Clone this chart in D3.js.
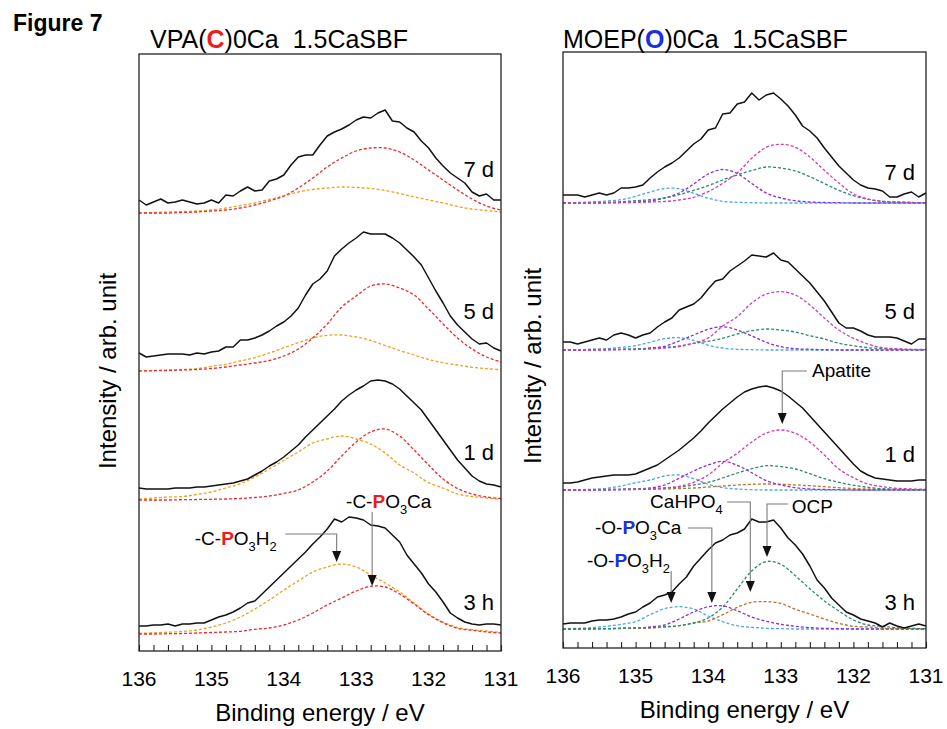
<!DOCTYPE html>
<meta charset="utf-8">
<script src="https://d3js.org/d3.v7.min.js"></script>
<style>
  body { margin: 0; background: #fff; }
  text { font-family: "Liberation Sans", Arial, Helvetica, sans-serif; }
</style>
<div id="chart"></div>
<script>
// Binding energy grids (eV): measured spectra every 0.1 eV, fitted components every 0.2 eV
var eVRaw = [136.0,135.9,135.8,135.7,135.6,135.5,135.4,135.3,135.2,135.1,135.0,134.9,134.8,134.7,134.6,134.5,134.4,134.3,134.2,134.1,134.0,133.9,133.8,133.7,133.6,133.5,133.4,133.3,133.2,133.1,133.0,132.9,132.8,132.7,132.6,132.5,132.4,132.3,132.2,132.1,132.0,131.9,131.8,131.7,131.6,131.5,131.4,131.3,131.2,131.1,131.0];
var eVFit = [136.0,135.8,135.6,135.4,135.2,135.0,134.8,134.6,134.4,134.2,134.0,133.8,133.6,133.4,133.2,133.0,132.8,132.6,132.4,132.2,132.0,131.8,131.6,131.4,131.2,131.0];
var tickLabels = [136, 135, 134, 133, 132, 131];
var times = ["7 d", "5 d", "1 d", "3 h"];

// stacking offsets of each spectrum (arb. unit)
var vpaOffset = [438, 280, 151, 17];
var moepOffset = [445, 298, 158, 19];

// VPA(C)0Ca measured P 2p spectra
var vpaRaw7d = [13,8,11,14,10,11,13,11,9,10,13,10,18,17,22,26,22,23,32,34,38,48,56,58,58,68,77,81,84,88,93,96,95,100,103,92,91,85,81,72,65,55,47,40,35,30,21,17,19,13,13];
var vpaRaw5d = [18,14,15,16,17,17,17,16,18,17,19,20,24,24,31,31,33,36,40,45,49,55,63,76,87,92,100,115,122,128,133,139,137,137,137,133,128,121,114,106,93,80,68,55,46,39,32,27,28,23,20];
var vpaRaw1d = [12,11,11,11,11,12,12,12,13,13,14,15,16,17,19,21,25,29,34,38,43,49,55,63,70,77,84,91,99,105,110,114,119,120,119,116,111,104,97,90,80,70,60,50,40,32,24,19,16,15,13];
var vpaRaw3h = [8,8,9,9,10,8,10,10,11,11,14,17,19,22,26,31,33,40,47,54,61,68,75,82,90,97,105,115,112,117,116,114,109,108,106,99,92,79,70,61,50,42,32,21,16,12,10,9,10,10,9];

// VPA fitted components: -C-PO3Ca (red), -C-PO3H2 (orange)
var vpaCa7d = [0,0,0,0.5,1,2,3,5,8,12,17,25,35,46,55,62,65,65,61,53,43,33,23,14,7,3];
var vpaH7d  = [0,0.5,1,1.5,2,3,5,7.5,10,13.5,17,21,23.5,25,26,25.5,24.5,22.5,19.5,16,13,10,6.5,4,2.5,1];
var vpaCa5d = [0,0.3,0.5,1,1.5,2.5,4,6,8,10.5,15,22,33,47,64,75,85,87,83,76,62,47,33,22,14,9];
var vpaH5d  = [0,0.5,1,1.5,2.3,4.7,6.7,10,13.3,18,23.3,28.3,33,35.7,36,34,30.5,25.5,20.5,16,11.5,8.3,6,3.7,2.3,1.3];
var vpaCa1d = [0,0,0,0.3,0.5,0.7,1,1.5,2.5,4,6.5,10,18,29,44,58,68,71,64,50,35,21,11.5,6,3,1.5];
var vpaH1d  = [1,2,3,3.5,5.5,8,12,16.3,23,31,39.7,48,57,61,64,61,56,47,35,27,17.3,12,6,3.5,2,0.7];
var vpaCa3h = [0,0,0.3,0.5,1,1.5,2,2.7,4.7,6,9,14,21,29,36,43,47.7,47,40,30,19.3,11.3,5.7,3.7,2,1];
var vpaH3h  = [0.7,1.2,1.8,2.5,4,7,11,17,25,34,44,53,62,67,70,67,59,51,42,31,20,12,6.5,4.3,3,1.5];

// MOEP(O)0Ca measured P 2p spectra
var moepRaw7d = [8,8,8,6,8,10,8,10,15,15,16,18,25,31,36,40,45,52,59,64,73,75,89,90,99,101,110,103,108,110,104,97,88,77,72,65,55,46,37,30,23,18,15,14,12,6,6,9,11,6,10];
var moepRaw5d = [8,8,6,8,10,12,10,15,17,15,12,15,17,23,28,32,40,43,46,52,61,69,71,79,84,89,95,94,93,97,90,88,81,74,67,58,49,38,27,22,22,19,15,13,13,13,12,9,6,11,11];
var moepRaw1d = [7,7,8,10,12,13,14,15,15,15,16,19,22,25,30,35,40,46,52,59,67,74,81,87,93,98,101,103,104,102,99,94,88,82,74,66,58,50,42,34,26,19,15,12,11,10,9,9,9,10,10];
var moepRaw3h = [5,6,6,6,8,9,9,10,12,15,17,22,26,32,34,37,45,52,63,71,79,86,89,94,96,100,110,107,107,109,101,91,84,75,63,49,41,31,24,17,14,10,8,6,2,6,3,1,3,5,3];

// MOEP fitted components
var moepH7d   = [0,0.5,1,2,3.3,6.7,11,14.5,14.3,9.7,4.7,1.7,0.7,0.3,0,0,0,0,0,0,0,0,0,0,0,0];
var moepCa7d  = [0,0,0,0.3,0.5,1,2,5,10,19,29,33.5,29.5,19.5,10,5,2.3,1,0.5,0.3,0,0,0,0,0,0];
var moepOcp7d = [0,0.3,0.5,0.7,1.3,2.3,3.3,5,8.3,12.7,17.3,23,28,32.5,36,35,32,26.3,19.5,12.7,7.3,3.7,1.7,1,0.5,0.3];
var moepAp7d  = [0,0,0,0,0.3,0.5,1,1.5,3,5.7,11.3,19.7,30,44.7,55.7,58.7,55.7,46,32.7,20,9.3,4,1.7,1,0.5,0.3];

var moepH5d   = [0,0.3,0.7,1.3,2.7,4.3,7.7,11.3,12.3,9.7,4.7,2,0.7,0.3,0,0,0,0,0,0,0,0,0,0,0,0];
var moepCa5d  = [0,0,0,0.3,0.7,1,2,3.7,9,15,20.7,23.3,20,14,7.7,3.3,1.3,0.7,0.3,0,0,0,0,0,0,0];
var moepOcp5d = [0,0.3,0.5,0.7,0.7,1,1.7,2.7,4,6.7,8.7,11.7,16,19.3,21,20,18,14.3,11,6.7,4.3,2.3,1.3,0.7,0.3,0.3];
var moepAp5d  = [0,0,0,0,0.3,0.5,1,2,3.3,6.7,12,24,33.3,47,56,58.3,55,45,32,20,11.7,6,2.3,1.3,0.7,0.7];

var moepH1d   = [0,0.3,0.7,1.7,4,7.3,10,14,15,11.3,5.7,2.3,1,0.3,0,0,0,0,0,0,0,0,0,0,0,0];
var moepCa1d  = [0,0,0,0.3,0.7,1,2,5,11.7,19,25,28.7,24.7,17.3,9.3,5,2.3,1,0.5,0.3,0,0,0,0,0,0];
var moepHpo1d = [0,0,0,0.3,0.3,0.5,0.7,1,1.5,2,3,4,5,5.7,6,5.7,5,4.3,3.3,2.3,1.5,1,0.7,0.3,0.3,0];
var moepOcp1d = [0,0.3,0.3,0.5,0.7,1,1.3,2,3,5,7.7,12,17,21.3,24.3,23.3,21,16.3,11.3,7.7,4.7,2.7,1.3,0.7,0.3,0.3];
var moepAp1d  = [0,0,0,0,0.3,0.7,1,2,3.7,7.7,15,27,36.7,48,57,60,56.7,48,35,21,12.3,6,3.3,1.7,1,0.7];

var moepH3h   = [0.3,0.7,1.3,2.7,4.7,7.3,14.3,20.3,22.3,20,13,7.3,3.3,1.7,0.7,0.3,0,0,0,0,0,0,0,0,0,0];
var moepCa3h  = [0,0,0,0.3,0.7,1,2,4,10,17,22.3,23,18.3,12,7.7,4.7,2.7,1.3,0.7,0.3,0,0,0,0,0,0];
var moepHpo3h = [0,0,0.3,0.3,0.5,0.7,1,2,3.3,6,8,14.3,21.7,26.7,27.3,25.7,19.7,15,10,5.7,2.7,2,0.7,0.3,0.3,0];
var moepOcp3h = [0,0,0.3,0.3,0.7,1,1.3,2.3,3.3,6,11,22,40,58,67.5,64.7,53.3,40.3,28,18,9,4,2.7,1.3,0.7,0.3];

var colors = {
  ca: "#ee2a2a", h: "#f0a020",
  oh: "#4aa8e6", oca: "#8a2be2", hpo: "#b5772e", ocp: "#2a8a74", ap: "#d23cb4"
};

var panels = [
  {
    x0: 139, x1: 501, top: 54, bottom: 651,
    title: [["VPA(", "n"], ["C", "b", "#ee1c1c"], [")0Ca\u00a0\u00a01.5CaSBF", "n"]], titleX: 150,
    ylabX: 116, ylabY: 371, labelX: 494, labelY: [177, 319, 460, 610],
    offsets: vpaOffset,
    raw: [vpaRaw7d, vpaRaw5d, vpaRaw1d, vpaRaw3h],
    fits: [
      [[vpaH7d, colors.h], [vpaCa7d, colors.ca]],
      [[vpaH5d, colors.h], [vpaCa5d, colors.ca]],
      [[vpaH1d, colors.h], [vpaCa1d, colors.ca]],
      [[vpaH3h, colors.h], [vpaCa3h, colors.ca]]
    ],
    notes: [
      {text: [["-C-", "n"], ["P", "b", "#ee1c1c"], ["O", "n"], ["3", "s"], ["H", "n"], ["2", "s"]],
       tx: 135.23, ty: 106, path: [[133.98, 117], [133.27, 117]], tip: [133.27, 89]},
      {text: [["-C-", "n"], ["P", "b", "#ee1c1c"], ["O", "n"], ["3", "s"], ["Ca", "n"]],
       tx: 133.14, ty: 143, path: [[132.78, 139]], tip: [132.78, 65]}
    ]
  },
  {
    x0: 563, x1: 926, top: 52, bottom: 648,
    title: [["MOEP(", "n"], ["O", "b", "#1a2ee6"], [")0Ca\u00a0\u00a01.5CaSBF", "n"]], titleX: 563,
    ylabX: 541, ylabY: 366, labelX: 915, labelY: [180, 319, 462, 610],
    offsets: moepOffset,
    raw: [moepRaw7d, moepRaw5d, moepRaw1d, moepRaw3h],
    fits: [
      [[moepH7d, colors.oh], [moepCa7d, colors.oca], [moepOcp7d, colors.ocp], [moepAp7d, colors.ap]],
      [[moepH5d, colors.oh], [moepCa5d, colors.oca], [moepOcp5d, colors.ocp], [moepAp5d, colors.ap]],
      [[moepH1d, colors.oh], [moepHpo1d, colors.hpo], [moepCa1d, colors.oca], [moepOcp1d, colors.ocp], [moepAp1d, colors.ap]],
      [[moepH3h, colors.oh], [moepCa3h, colors.oca], [moepHpo3h, colors.hpo], [moepOcp3h, colors.ocp]]
    ],
    notes: [
      {text: [["Apatite", "n"]], tx: 132.57, ty: 271, path: [[132.64, 277], [132.98, 277]], tip: [132.98, 224]},
      {text: [["CaHPO", "n"], ["4", "s"]], tx: 134.80, ty: 140, path: [[133.74, 146], [133.42, 146]], tip: [133.42, 56]},
      {text: [["OCP", "n"]], tx: 132.85, ty: 135, path: [[132.90, 144], [133.19, 144]], tip: [133.19, 91]},
      {text: [["-O-", "n"], ["P", "b", "#1a2ee6"], ["O", "n"], ["3", "s"], ["Ca", "n"]],
       tx: 135.56, ty: 114, path: [[134.28, 120], [133.95, 120]], tip: [133.95, 45]},
      {text: [["-O-", "n"], ["P", "b", "#1a2ee6"], ["O", "n"], ["3", "s"], ["H", "n"], ["2", "s"]],
       tx: 135.67, ty: 81, path: [[134.51, 77]], tip: [134.51, 45]}
    ]
  }
];

var svg = d3.select("#chart").append("svg")
    .attr("width", 947)
    .attr("height", 729);

// text made of normal / bold coloured / subscript pieces
function richText(sel, parts, size) {
  var shifted = false;
  parts.forEach(function(p) {
    var t = sel.append("tspan").text(p[0]);
    var dy = 0;
    if (p[1] === "s") {
      t.attr("font-size", size * 0.68);
      if (!shifted) dy = size * 0.3;
      shifted = true;
    } else {
      if (shifted) dy = -size * 0.3;
      shifted = false;
      if (p[1] === "b") t.attr("font-weight", "bold").attr("fill", p[2]);
    }
    if (dy) t.attr("dy", dy);
  });
}

svg.append("text")
    .attr("x", 13).attr("y", 31)
    .attr("font-size", 23).attr("font-weight", "bold")
    .text("Figure 7");

panels.forEach(function(p) {
  var x = d3.scaleLinear().domain([136, 131]).range([p.x0, p.x1]);
  var y = d3.scaleLinear().domain([0, p.bottom - p.top]).range([p.bottom, p.top]);
  var g = svg.append("g");

  // minor ticks every 0.2 eV, pointing inside
  var ax = g.append("g")
      .attr("transform", "translate(0," + p.bottom + ")")
      .call(d3.axisBottom(x).tickValues(eVFit).tickSize(-6).tickFormat(""));
  ax.select(".domain").remove();
  ax.selectAll("line").attr("stroke", "#222").attr("stroke-width", 1.1);

  times.forEach(function(t, i) {
    var off = p.offsets[i];

    p.fits[i].forEach(function(f) {
      var line = d3.line()
          .x(function(d, j) { return x(eVFit[j]); })
          .y(function(d) { return y(off + d); })
          .curve(d3.curveCatmullRom.alpha(0.5));
      g.append("path")
          .attr("d", line(f[0]))
          .attr("fill", "none")
          .attr("stroke", f[1])
          .attr("stroke-width", 1.3)
          .attr("stroke-dasharray", "3,2");
    });

    var rawLine = d3.line()
        .x(function(d, j) { return x(eVRaw[j]); })
        .y(function(d) { return y(off + d); });
    g.append("path")
        .attr("d", rawLine(p.raw[i]))
        .attr("fill", "none")
        .attr("stroke", "#111")
        .attr("stroke-width", 1.5)
        .attr("stroke-linejoin", "round");

    g.append("text")
        .attr("x", p.labelX).attr("y", p.labelY[i])
        .attr("text-anchor", "end")
        .attr("font-size", 22)
        .text(t);
  });

  // annotations with arrows
  p.notes.forEach(function(n) {
    var pts = n.path.concat([[n.tip[0], n.tip[1] + 10]]);
    g.append("path")
        .attr("d", d3.line().x(function(d) { return x(d[0]); }).y(function(d) { return y(d[1]); })(pts))
        .attr("fill", "none")
        .attr("stroke", "#7a7a7a")
        .attr("stroke-width", 1.1);
    var tx = x(n.tip[0]), ty = y(n.tip[1]);
    g.append("path")
        .attr("d", "M" + (tx - 4.5) + "," + (ty - 11) + "L" + (tx + 4.5) + "," + (ty - 11) + "L" + tx + "," + ty + "Z")
        .attr("fill", "#111");
    var txt = g.append("text")
        .attr("x", x(n.tx)).attr("y", y(n.ty))
        .attr("font-size", 19);
    richText(txt, n.text, 19);
  });

  g.append("rect")
      .attr("x", p.x0).attr("y", p.top)
      .attr("width", p.x1 - p.x0).attr("height", p.bottom - p.top)
      .attr("fill", "none")
      .attr("stroke", "#222")
      .attr("stroke-width", 1.3);

  g.selectAll(".tl")
    .data(tickLabels)
    .enter().append("text")
      .attr("x", function(d) { return x(d); })
      .attr("y", p.bottom + 35)
      .attr("text-anchor", "middle")
      .attr("font-size", 21)
      .text(function(d) { return d; });

  g.append("text")
      .attr("x", (p.x0 + p.x1) / 2)
      .attr("y", p.bottom + 70)
      .attr("text-anchor", "middle")
      .attr("font-size", 24)
      .text("Binding energy / eV");

  g.append("text")
      .attr("transform", "translate(" + p.ylabX + "," + p.ylabY + ")rotate(-90)")
      .attr("text-anchor", "middle")
      .attr("font-size", 24)
      .text("Intensity / arb. unit");

  var title = g.append("text")
      .attr("x", p.titleX).attr("y", 48)
      .attr("font-size", 25);
  richText(title, p.title, 25);
});
</script>
